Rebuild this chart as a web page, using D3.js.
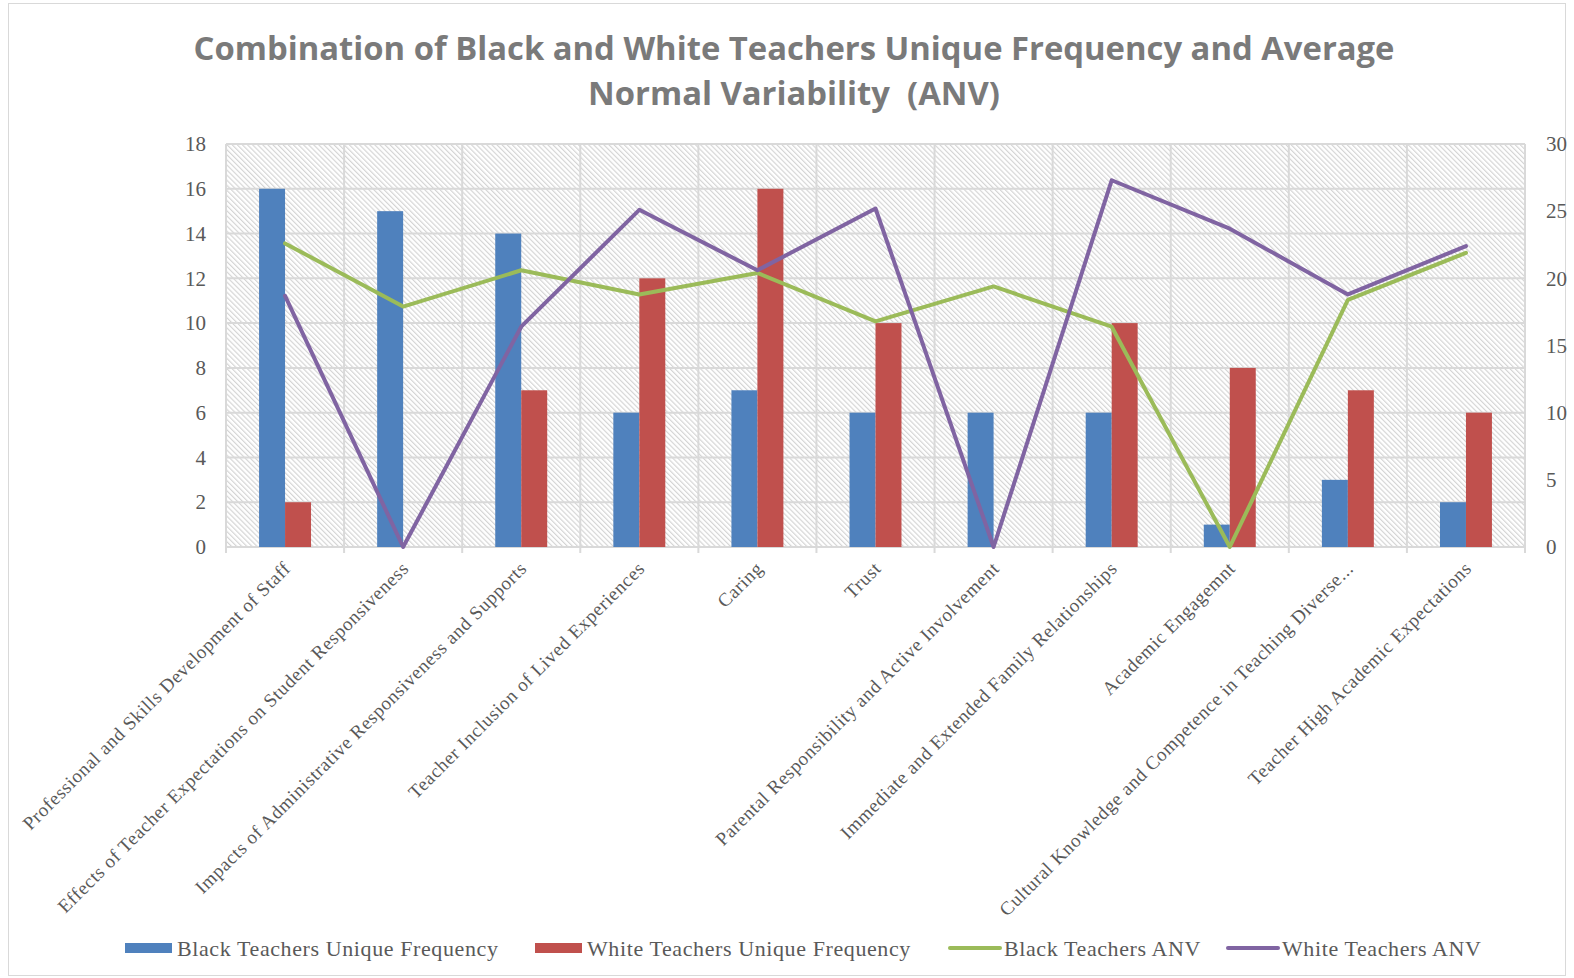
<!DOCTYPE html>
<html>
<head>
<meta charset="utf-8">
<script src="https://cdn.jsdelivr.net/npm/d3@7"></script>
<style>
  html, body { margin: 0; padding: 0; background: #fff; }
  svg { display: block; }
</style>
</head>
<body>
<svg id="chart" width="1574" height="978"></svg>
<script>
// Themes coded in the interviews
const categories = [
  "Professional and Skills Development of Staff",
  "Effects of Teacher Expectations on Student Responsiveness",
  "Impacts of Administrative Responsiveness and Supports",
  "Teacher Inclusion of Lived Experiences",
  "Caring",
  "Trust",
  "Parental Responsibility and Active Involvement",
  "Immediate and Extended Family Relationships",
  "Academic Engagemnt",
  "Cultural Knowledge and Competence in Teaching Diverse...",
  "Teacher High Academic Expectations"
];

// Unique frequency counts (left axis)
const blackFreq = [16, 15, 14, 6, 7, 6, 6, 6, 1, 3, 2];
const whiteFreq = [2, 0, 7, 12, 16, 10, 0, 10, 8, 7, 6];

// Average normal variability (right axis)
const blackANV = [22.6, 17.9, 20.6, 18.8, 20.4, 16.8, 19.4, 16.4, 0, 18.4, 21.9];
const whiteANV = [18.7, 0, 16.4, 25.1, 20.6, 25.2, 0, 27.3, 23.7, 18.8, 22.4];

const leftTicks = [0, 2, 4, 6, 8, 10, 12, 14, 16, 18];
const rightTicks = [0, 5, 10, 15, 20, 25, 30];

const titleLines = [
  "Combination of Black and White Teachers Unique Frequency and Average",
  "Normal Variability  (ANV)"
];

const seriesNames = [
  "Black Teachers Unique Frequency",
  "White Teachers Unique Frequency",
  "Black Teachers ANV",
  "White Teachers ANV"
];

const COLORS = { blue: "#4f81bd", red: "#c0504d", green: "#9bbb59", purple: "#8064a2" };
const GRID = "#d9d9d9";
const TEXT = "#595959";
const SERIF = "'Liberation Serif', 'DejaVu Serif', serif";

const svg = d3.select("#chart");

// Outer chart frame
svg.append("rect")
  .attr("x", 8.5).attr("y", 3.5)
  .attr("width", 1557).attr("height", 972)
  .attr("fill", "#fff").attr("stroke", "#d9d9d9").attr("stroke-width", 1);

// Plot area bounds
const plot = { left: 226, right: 1525, top: 144, bottom: 547 };

const x = d3.scaleBand().domain(categories).range([plot.left, plot.right]).padding(0);
const groupW = x.bandwidth() * 0.44;
const xSub = d3.scaleBand().domain(["black", "white"])
  .range([(x.bandwidth() - groupW) / 2, (x.bandwidth() + groupW) / 2]).padding(0);
const yL = d3.scaleLinear().domain([0, 18]).range([plot.bottom, plot.top]);
const yR = d3.scaleLinear().domain([0, 30]).range([plot.bottom, plot.top]);

// Diagonal hatch fill of the plot area
const defs = svg.append("defs");
const pat = defs.append("pattern")
  .attr("id", "hatch").attr("patternUnits", "userSpaceOnUse")
  .attr("width", 3.6).attr("height", 3.6)
  .attr("patternTransform", "rotate(-45)");
pat.append("rect").attr("width", 3.6).attr("height", 3.6).attr("fill", "#ffffff");
pat.append("line").attr("x1", 0.6).attr("y1", 0).attr("x2", 0.6).attr("y2", 3.6)
  .attr("stroke", "#d2d2d2").attr("stroke-width", 1.1);

svg.append("rect")
  .attr("x", plot.left).attr("y", plot.top)
  .attr("width", plot.right - plot.left).attr("height", plot.bottom - plot.top)
  .attr("fill", "url(#hatch)");

// Horizontal gridlines
svg.append("g").selectAll("line").data(leftTicks).join("line")
  .attr("x1", plot.left).attr("x2", plot.right)
  .attr("y1", d => yL(d)).attr("y2", d => yL(d))
  .attr("stroke", GRID).attr("stroke-width", 2);

// Vertical gridlines at category boundaries, with tick marks below the axis
const bounds = categories.map(c => x(c)).concat([plot.right]);
svg.append("g").selectAll("line").data(bounds).join("line")
  .attr("x1", d => d).attr("x2", d => d)
  .attr("y1", plot.top).attr("y2", plot.bottom + 6)
  .attr("stroke", GRID).attr("stroke-width", 2);

// Bars
const groups = svg.append("g").selectAll("g").data(categories).join("g")
  .attr("transform", d => `translate(${x(d)},0)`);
groups.append("rect")
  .attr("x", xSub("black")).attr("width", xSub.bandwidth())
  .attr("y", (d, i) => yL(blackFreq[i]))
  .attr("height", (d, i) => yL(0) - yL(blackFreq[i]))
  .attr("fill", COLORS.blue);
groups.append("rect")
  .attr("x", xSub("white")).attr("width", xSub.bandwidth())
  .attr("y", (d, i) => yL(whiteFreq[i]))
  .attr("height", (d, i) => yL(0) - yL(whiteFreq[i]))
  .attr("fill", COLORS.red);

// ANV lines on the secondary axis
const cx = c => x(c) + x.bandwidth() / 2;
const line = d3.line().x(d => cx(d.c)).y(d => yR(d.v));
[[blackANV, COLORS.green], [whiteANV, COLORS.purple]].forEach(([vals, col]) => {
  svg.append("path")
    .datum(categories.map((c, i) => ({ c, v: vals[i] })))
    .attr("d", line)
    .attr("fill", "none").attr("stroke", col)
    .attr("stroke-width", 4).attr("stroke-linejoin", "round").attr("stroke-linecap", "round");
});

// Left axis
const axL = svg.append("g").attr("transform", `translate(${plot.left - 20},0)`)
  .call(d3.axisLeft(yL).tickValues(leftTicks).tickSize(0).tickPadding(0));
axL.select(".domain").remove();
axL.selectAll("text").attr("font-family", SERIF).attr("font-size", 21).attr("fill", TEXT);

// Right axis
const axR = svg.append("g").attr("transform", `translate(${plot.right + 21},0)`)
  .call(d3.axisRight(yR).tickValues(rightTicks).tickSize(0).tickPadding(0));
axR.select(".domain").remove();
axR.selectAll("text").attr("font-family", SERIF).attr("font-size", 21).attr("fill", TEXT);

// Rotated category labels
svg.append("g").selectAll("text").data(categories).join("text")
  .attr("transform", d => `translate(${cx(d) + 2},${plot.bottom + 18}) rotate(-45)`)
  .attr("text-anchor", "end")
  .attr("dy", "0.35em")
  .attr("font-family", SERIF).attr("font-size", 19).attr("letter-spacing", 0.6)
  .attr("fill", TEXT)
  .text(d => d);

// Title
svg.append("g").selectAll("text").data(titleLines).join("text")
  .attr("x", 794).attr("y", (d, i) => 60 + i * 45)
  .attr("text-anchor", "middle")
  .attr("font-family", "'Open Sans', sans-serif").attr("font-weight", 700)
  .attr("font-size", 32.8).attr("fill", "#7a7a7a")
  .style("white-space", "pre")
  .text(d => d);

// Legend
const legendItems = [
  { name: seriesNames[0], color: COLORS.blue, type: "rect", x: 125 },
  { name: seriesNames[1], color: COLORS.red, type: "rect", x: 535 },
  { name: seriesNames[2], color: COLORS.green, type: "line", x: 949 },
  { name: seriesNames[3], color: COLORS.purple, type: "line", x: 1227 }
];
const legY = 948;
const leg = svg.append("g").selectAll("g").data(legendItems).join("g")
  .attr("transform", d => `translate(${d.x},${legY})`);
leg.filter(d => d.type === "rect").append("rect")
  .attr("x", 0).attr("y", -5).attr("width", 47).attr("height", 10)
  .attr("fill", d => d.color);
leg.filter(d => d.type === "line").append("line")
  .attr("x1", 1).attr("x2", 51).attr("y1", 0).attr("y2", 0)
  .attr("stroke", d => d.color).attr("stroke-width", 4).attr("stroke-linecap", "round");
leg.append("text")
  .attr("x", d => d.type === "rect" ? 52 : 55)
  .attr("dy", "0.35em")
  .attr("font-family", SERIF).attr("font-size", 22).attr("letter-spacing", 0.6)
  .attr("fill", TEXT)
  .text(d => d.name);
</script>
</body>
</html>
